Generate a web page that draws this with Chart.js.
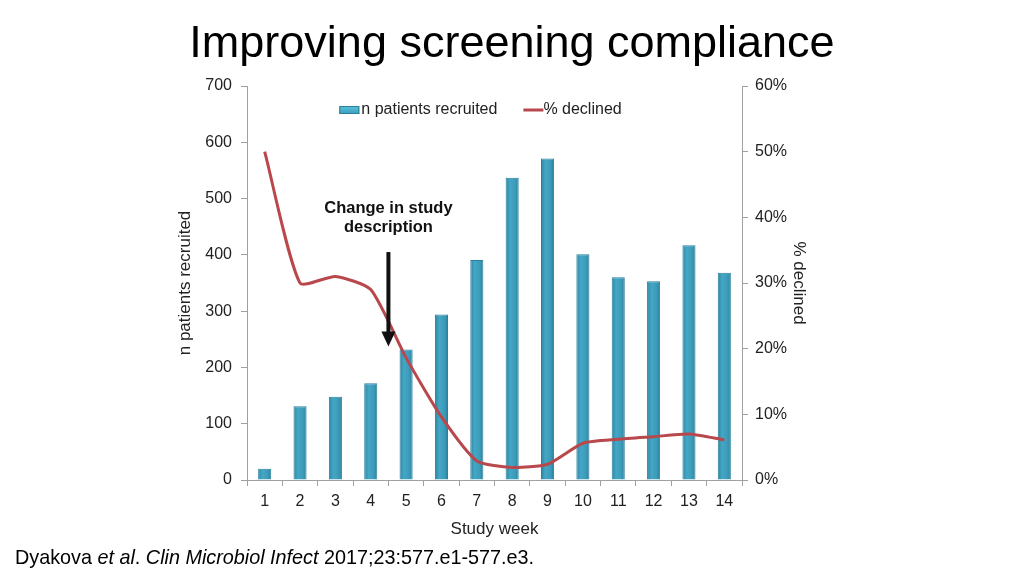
<!DOCTYPE html>
<html>
<head>
<meta charset="utf-8">
<script src="https://cdn.jsdelivr.net/npm/chart.js@4"></script>
<style>
    body { margin: 0; background: #fff; font-family: "Liberation Sans", Arial, sans-serif; }
    #wrap { position: relative; width: 1024px; height: 576px; }
    #chart { position: absolute; left: 0; top: 0; }
    #title { position: absolute; left: 0; width: 1024px; top: 16px; text-align: center; font-size: 45px; color: #000; }
    #source { position: absolute; left: 15px; top: 546px; font-size: 19.8px; color: #000; }
</style>
</head>
<body>
<div id="wrap">
    <canvas id="chart" width="1024" height="576"></canvas>
    <div id="title">Improving screening compliance</div>
    <div id="source">Dyakova <i>et al</i>. <i>Clin Microbiol Infect</i> 2017;23:577.e1-577.e3.</div>
</div>
<script>
let weeks = ['1', '2', '3', '4', '5', '6', '7', '8', '9', '10', '11', '12', '13', '14'];
let recruited = [20, 131, 148, 172, 232, 294, 391, 537, 571, 401, 360, 353, 417, 368];
let declined = [50, 30, 31, 29, 18.6, 9.6, 2.9, 1.9, 2.4, 5.6, 6.2, 6.6, 7, 6.1];
let leftTicks = [0, 700, 100];
let rightTicks = [0, 60, 10];

// annotation anchor, in data units (x = category index, y = left axis)
let note = {
    lines: ['Change in study', 'description'],
    x: 3.5,
    textY: [483, 448],
    arrowFrom: 405,
    arrowTo: 237
};

let fontFamily = '"Liberation Sans", Arial, sans-serif';
let tickFont = { family: fontFamily, size: 16 };
let titleFont = { family: fontFamily, size: 17 };

// shaded bar fill, like the cylinder look of the original
function barFill(context) {
    let chart = context.chart;
    let xs = chart.scales.x;
    if (!xs || context.dataIndex === undefined) return '#3a9bb9';
    let cx = xs.getPixelForValue(context.dataIndex);
    if (!isFinite(cx)) return '#3a9bb9';
    let g = chart.ctx.createLinearGradient(cx - 7, 0, cx + 7, 0);
    g.addColorStop(0, '#2b82a0');
    g.addColorStop(0.35, '#44a7c5');
    g.addColorStop(0.7, '#3c9cba');
    g.addColorStop(1, '#2a7d99');
    return g;
}

let notePlugin = {
    id: 'note',
    afterDatasetsDraw(chart) {
        let ctx = chart.ctx;
        let area = chart.chartArea;
        let xs = chart.scales.x;
        let ys = chart.scales.y;
        let x = xs.getPixelForValue(note.x);
        ctx.save();

        // annotation + arrow
        ctx.fillStyle = '#111';
        ctx.font = 'bold 16.5px ' + fontFamily;
        ctx.textAlign = 'center';
        ctx.textBaseline = 'middle';
        note.lines.forEach((t, i) => {
            ctx.fillText(t, x, ys.getPixelForValue(note.textY[i]));
        });
        let y1 = ys.getPixelForValue(note.arrowFrom);
        let y2 = ys.getPixelForValue(note.arrowTo);
        ctx.fillRect(x - 2, y1, 4, y2 - y1 - 14);
        ctx.beginPath();
        ctx.moveTo(x - 7, y2 - 15);
        ctx.lineTo(x + 7, y2 - 15);
        ctx.lineTo(x, y2);
        ctx.closePath();
        ctx.fill();

        // legend inside the plot area
        let sets = chart.data.datasets;
        ctx.font = '16px ' + fontFamily;
        ctx.textAlign = 'left';
        let w0 = ctx.measureText(sets[0].label).width;
        let w1 = ctx.measureText(sets[1].label).width;
        let total = 20 + 2 + w0 + 26 + 20 + w1;
        let lx = (area.left + area.right) / 2 - total / 2 - 14;
        let ly = area.top + 24;
        let lg = ctx.createLinearGradient(0, ly - 4, 0, ly + 4);
        lg.addColorStop(0, '#5cc4de');
        lg.addColorStop(1, '#3a9bb9');
        ctx.fillStyle = lg;
        ctx.strokeStyle = sets[0].borderColor;
        ctx.lineWidth = 1;
        ctx.fillRect(lx, ly - 4, 20, 8);
        ctx.strokeRect(lx + 0.5, ly - 3.5, 19, 7);
        ctx.fillStyle = '#222';
        ctx.fillText(sets[0].label, lx + 22, ly);
        let lx2 = lx + 22 + w0 + 26;
        ctx.strokeStyle = sets[1].borderColor;
        ctx.lineWidth = 3;
        ctx.beginPath();
        ctx.moveTo(lx2, ly);
        ctx.lineTo(lx2 + 20, ly);
        ctx.stroke();
        ctx.fillText(sets[1].label, lx2 + 20, ly);
        ctx.restore();
    }
};

new Chart(document.getElementById('chart'), {
    data: {
        labels: weeks,
        datasets: [
            {
                type: 'bar',
                label: 'n patients recruited',
                data: recruited,
                yAxisID: 'y',
                backgroundColor: barFill,
                borderColor: '#2a7f9c',
                borderWidth: 1,
                barPercentage: 0.74,
                categoryPercentage: 0.5,
                order: 2
            },
            {
                type: 'line',
                label: '% declined',
                data: declined,
                yAxisID: 'y2',
                borderColor: '#b9484c',
                backgroundColor: '#b9484c',
                borderWidth: 3,
                pointRadius: 0,
                tension: 0.2,
                order: 1
            }
        ]
    },
    options: {
        responsive: false,
        animation: false,
        layout: { padding: { left: 171, right: 211, top: 86, bottom: 34 } },
        plugins: {
            tooltip: { enabled: false },
            legend: { display: false }
        },
        scales: {
            x: {
                afterFit(scale) { scale.height = 62; },
                grid: { drawOnChartArea: false, tickLength: 6, color: '#a0a0a0' },
                border: { color: '#a0a0a0' },
                ticks: { color: '#222', font: tickFont, padding: 6 },
                title: { display: true, text: 'Study week', color: '#222', font: titleFont, padding: 2 }
            },
            y: {
                position: 'left',
                min: leftTicks[0],
                max: leftTicks[1],
                afterFit(scale) { scale.width = 76; },
                grid: { drawOnChartArea: false, tickLength: 6, color: '#a0a0a0' },
                border: { color: '#a0a0a0' },
                ticks: { stepSize: leftTicks[2], color: '#222', font: tickFont, padding: 9 },
                title: { display: true, text: 'n patients recruited', color: '#222', font: titleFont, padding: 4 }
            },
            y2: {
                position: 'right',
                min: rightTicks[0],
                max: rightTicks[1],
                afterFit(scale) { scale.width = 71; },
                grid: { drawOnChartArea: false, tickLength: 6, color: '#a0a0a0' },
                border: { color: '#a0a0a0' },
                ticks: { stepSize: rightTicks[2], color: '#222', font: tickFont, padding: 7, callback: v => v + '%' },
                title: { display: true, text: '% declined', color: '#222', font: titleFont, padding: 4 }
            }
        }
    },
    plugins: [notePlugin]
});
</script>
</body>
</html>
